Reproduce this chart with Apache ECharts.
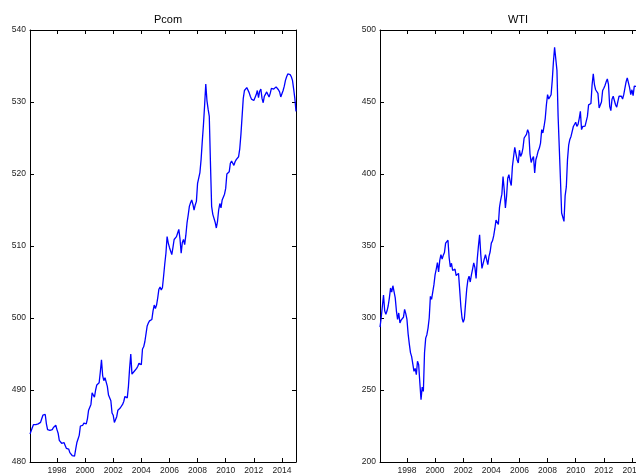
<!DOCTYPE html>
<html>
<head>
<meta charset="utf-8">
<script src="https://cdn.jsdelivr.net/npm/echarts@6/dist/echarts.min.js"></script>
<style>
  html, body { margin: 0; padding: 0; background: #ffffff; }
  #chart { width: 636px; height: 476px; }
</style>
</head>
<body>
<div id="chart"></div>
<script>
// Monthly series, first value is February 1996 (1996 + 1/12).
const firstYear = 1996;
const lastYear = 2015;
const yearTicks = [1998, 2000, 2002, 2004, 2006, 2008, 2010, 2012, 2014];

const pcomTitle = 'Pcom';
const wtiTitle = 'WTI';

const pcomRange = [480, 540, 10];
const wtiRange = [200, 500, 50];

// Pcom, one row per year (12 months each)
const pcom = [
  483.9, 484.0, 484.8, 485.2, 485.3, 485.2, 485.4, 485.3, 485.3, 485.5, 486.0, 486.5,
  486.3, 486.6, 485.3, 484.5, 484.7, 484.4, 484.6, 484.5, 484.8, 485.0, 485.1, 484.5,
  484.0, 483.0, 482.8, 482.6, 482.8, 482.7, 482.3, 481.9, 482.0, 481.8, 481.3, 481.2,
  480.9, 480.7, 480.8, 481.8, 482.7, 483.2, 483.7, 485.0, 485.2, 485.1, 485.4, 485.2,
  485.3, 486.0, 487.2, 487.4, 488.0, 489.6, 489.5, 489.0, 490.0, 490.7, 490.5, 491.0,
  492.5, 494.2, 492.0, 491.3, 491.7, 491.8, 490.5, 489.3, 489.2, 488.5, 486.8, 486.5,
  485.5, 485.6, 486.3, 487.2, 487.4, 487.5, 487.7, 488.0, 488.4, 489.1, 489.0, 488.9,
  490.5, 493.0, 495.0, 492.2, 492.0, 492.6, 492.8, 493.0, 493.3, 493.7, 493.6, 493.5,
  495.7, 496.0, 496.7, 497.8, 498.9, 499.3, 499.6, 499.8, 499.8, 501.0, 501.8, 501.3,
  501.8, 502.8, 504.0, 504.3, 503.9, 504.2, 505.8, 507.5, 509.0, 511.3, 510.4, 509.8,
  509.6, 508.8, 509.8, 510.9, 511.0, 511.3, 511.8, 512.3, 511.0, 509.0, 510.5, 510.9,
  510.2, 511.5, 513.2, 514.3, 515.5, 516.0, 516.4, 515.8, 515.0, 515.7, 516.2, 518.7,
  518.8, 520.2, 522.0, 524.5, 526.8, 529.5, 532.5, 530.2, 529.0, 528.0, 521.5, 515.5,
  514.4, 514.2, 513.3, 512.5, 513.4, 515.0, 515.9, 515.3, 516.4, 516.6, 517.2, 518.0,
  520.0, 520.1, 520.3, 521.5, 521.8, 521.7, 521.2, 521.7, 522.0, 522.2, 522.4, 523.5,
  525.5, 528.0, 530.5, 531.6, 531.8, 532.0, 531.8, 531.3, 530.8, 530.4, 530.6, 530.2,
  530.0, 531.0, 531.6, 530.6, 531.5, 531.8, 530.5, 529.9, 530.8, 531.1, 531.4, 531.2,
  530.7, 531.2, 531.9, 531.7, 531.8, 532.0, 532.1, 532.0, 531.7, 531.4, 530.7, 530.5,
  531.6, 532.2, 533.0, 533.5, 533.9, 533.9, 533.8, 533.5, 533.0, 531.8, 530.5, 528.7
];

// WTI, one row per year (12 months each)
const wti = [
  293.7, 300.0, 308.0, 316.0, 305.0, 302.5, 305.0, 308.5, 314.0, 320.8, 318.0, 322.4,
  322.0, 314.0, 305.0, 299.0, 303.5, 296.5, 298.5, 299.5, 300.5, 306.0, 303.0, 299.0,
  289.0, 282.0, 276.0, 273.2, 273.0, 263.0, 265.0, 260.6, 270.0, 267.5, 255.0, 243.3,
  252.0, 249.0, 276.0, 286.0, 288.4, 293.0, 300.0, 315.0, 313.0, 318.0, 323.0, 330.0,
  334.0, 338.5, 332.0, 340.0, 344.0, 341.0, 343.5, 345.5, 352.0, 351.0, 354.0, 342.0,
  335.4, 338.0, 333.0, 332.5, 334.0, 329.5, 330.0, 331.0, 319.7, 308.0, 300.0, 297.0,
  299.5, 310.0, 320.0, 326.5, 329.0, 325.0, 330.0, 334.0, 338.2, 335.0, 327.5, 341.0,
  350.0, 357.8, 344.0, 334.5, 334.0, 341.0, 344.0, 345.0, 337.0, 342.8, 346.0, 352.0,
  353.6, 357.0, 362.0, 368.0, 368.0, 365.0, 377.0, 382.0, 386.0, 398.3, 389.1, 376.4,
  384.4, 397.0, 399.5, 395.0, 392.0, 405.3, 412.0, 418.5, 414.0, 409.9, 407.6, 416.5,
  412.2, 414.0, 418.0, 425.0, 426.0, 427.5, 430.8, 428.5, 414.0, 408.0, 410.5, 412.2,
  400.7, 409.9, 412.7, 416.0, 418.0, 421.5, 430.8, 428.5, 433.0, 438.5, 448.1, 455.1,
  452.1, 452.8, 455.0, 465.0, 478.0, 488.0, 489.0, 472.0, 440.0, 418.0, 396.0, 372.9,
  372.5, 367.1, 385.0, 391.0, 410.0, 420.0, 424.0, 426.1, 425.0, 433.0, 433.5, 435.9,
  433.1, 434.5, 438.5, 443.5, 430.8, 433.0, 433.6, 433.2, 432.0, 440.0, 448.0, 448.6,
  449.0, 462.0, 469.6, 462.0, 458.5, 457.3, 456.0, 445.8, 445.1, 450.0, 458.0, 459.6,
  461.5, 464.0, 466.0, 462.0, 447.0, 444.0, 452.0, 454.0, 455.0, 448.1, 446.4, 450.5,
  454.0, 455.1, 454.0, 452.1, 455.1, 455.8, 464.0, 466.8, 465.5, 460.0, 455.1, 458.5,
  454.4, 461.0, 462.0, 460.8
];

function monthly(values) {
  return values.map((v, i) => [firstYear + (i + 1) / 12, v]);
}

const FONT = 'Liberation Sans, Arial, Helvetica, sans-serif';
const axisColor = '#000000';

function xAxes(gridIndex) {
  const base = {
    type: 'value',
    gridIndex: gridIndex,
    min: firstYear + 1 / 12,
    max: lastYear,
    axisLine: { show: true, onZero: false, lineStyle: { color: axisColor, width: 1 } },
    axisTick: { show: true, inside: true, length: 4, customValues: yearTicks,
                lineStyle: { color: axisColor, width: 1 } },
    splitLine: { show: false }
  };
  return [
    Object.assign({}, base, {
      position: 'bottom',
      axisLabel: { show: true, customValues: yearTicks, formatter: v => String(v),
                   fontSize: 8.5, fontFamily: FONT, color: '#222', margin: 4 }
    }),
    Object.assign({}, base, {
      position: 'top',
      axisLabel: { show: false }
    })
  ];
}

function yAxes(gridIndex, range) {
  const base = {
    type: 'value',
    gridIndex: gridIndex,
    min: range[0],
    max: range[1],
    interval: range[2],
    axisLine: { show: true, onZero: false, lineStyle: { color: axisColor, width: 1 } },
    axisTick: { show: true, inside: true, length: 4, lineStyle: { color: axisColor, width: 1 } },
    splitLine: { show: false }
  };
  return [
    Object.assign({}, base, {
      position: 'left',
      axisLabel: { show: true, formatter: v => String(v),
                   fontSize: 8.5, fontFamily: FONT, color: '#222', margin: 4 }
    }),
    Object.assign({}, base, {
      position: 'right',
      axisLabel: { show: false }
    })
  ];
}

const chart = echarts.init(document.getElementById('chart'), null, { renderer: 'canvas' });

const lineStyle = { color: '#0000ff', width: 1.3 };

chart.setOption({
  animation: false,
  backgroundColor: '#ffffff',
  title: [
    { text: pcomTitle, left: 163, top: 9, textAlign: 'center',
      textStyle: { fontSize: 11, fontWeight: 'normal', color: '#000', fontFamily: FONT } },
    { text: wtiTitle, left: 513, top: 9, textAlign: 'center',
      textStyle: { fontSize: 11, fontWeight: 'normal', color: '#000', fontFamily: FONT } }
  ],
  grid: [
    { left: 30, top: 30, width: 266, height: 432, outerBoundsMode: 'none', containLabel: false },
    { left: 380, top: 30, width: 266, height: 432, outerBoundsMode: 'none', containLabel: false }
  ],
  xAxis: [].concat(xAxes(0), xAxes(1)),
  yAxis: [].concat(yAxes(0, pcomRange), yAxes(1, wtiRange)),
  series: [
    { name: pcomTitle, type: 'line', xAxisIndex: 0, yAxisIndex: 0,
      data: monthly(pcom), showSymbol: false, symbol: 'none', lineStyle: lineStyle, clip: true },
    { name: wtiTitle, type: 'line', xAxisIndex: 2, yAxisIndex: 2,
      data: monthly(wti), showSymbol: false, symbol: 'none', lineStyle: lineStyle, clip: true }
  ]
});
</script>
</body>
</html>
